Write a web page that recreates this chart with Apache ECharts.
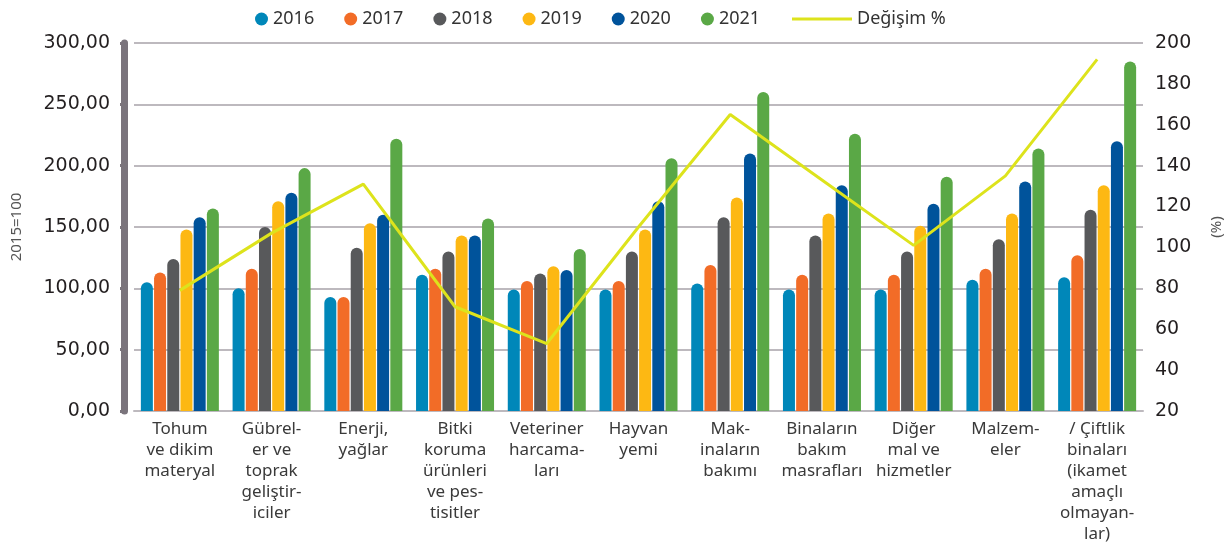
<!DOCTYPE html>
<html>
<head>
<meta charset="utf-8">
<script src="https://cdn.jsdelivr.net/npm/echarts@6/dist/echarts.min.js"></script>
<style>
  html, body { margin: 0; padding: 0; background: #fff; }
  #chart { width: 1231px; height: 550px; }
</style>
</head>
<body>
<div id="chart"></div>
<script>
const categories = [
  'Tohum\nve dikim\nmateryal',
  'Gübrel-\ner ve\ntoprak\ngeliştir-\niciler',
  'Enerji,\nyağlar',
  'Bitki\nkoruma\nürünleri\nve pes-\ntisitler',
  'Veteriner\nharcama-\nları',
  'Hayvan\nyemi',
  'Mak-\ninaların\nbakımı',
  'Binaların\nbakım\nmasrafları',
  'Diğer\nmal ve\nhizmetler',
  'Malzem-\neler',
  '/ Çiftlik\nbinaları\n(ikamet\namaçlı\nolmayan-\nlar)'
]

const years = ['2016', '2017', '2018', '2019', '2020', '2021']
const yearColors = ['#0087b9', '#f26c27', '#58595b', '#fdb813', '#00539b', '#5aa846']

const v2016 = [105, 100, 93, 111, 99, 99, 104, 99, 99, 107, 109]
const v2017 = [113, 116, 93, 116, 106, 106, 119, 111, 111, 116, 127]
const v2018 = [124, 150, 133, 130, 112, 130, 158, 143, 130, 140, 164]
const v2019 = [148, 171, 153, 143, 118, 148, 174, 161, 151, 161, 184]
const v2020 = [158, 178, 160, 143, 115, 171, 210, 184, 169, 187, 220]
const v2021 = [165, 198, 222, 157, 132, 206, 260, 226, 191, 214, 285]
const yearValues = [v2016, v2017, v2018, v2019, v2020, v2021]

const changeName = 'Değişim %'
const changeValues = [79, 107, 131, 71, 53, 110, 165, 133, 101, 135, 192]

const chartInstance = echarts.init(document.getElementById('chart'))

const barSeries = years.map((year, i) => ({
  name: year,
  type: 'bar',
  barWidth: 12,
  barGap: '10%',
  itemStyle: {
    color: yearColors[i],
    borderRadius: [6, 6, 0, 0]
  },
  data: yearValues[i]
}))

const legendText = { fontSize: 18, color: '#333', fontFamily: 'Noto Sans' }

const option = {
  animation: false,
  textStyle: { fontFamily: 'Noto Sans' },
  legend: [
    {
      data: years,
      left: 250,
      top: 5,
      icon: 'circle',
      itemWidth: 13,
      itemHeight: 15,
      itemGap: 30,
      itemTextGap: 6,
      textStyle: legendText
    },
    {
      data: [{ name: changeName, icon: 'rect' }],
      left: 787,
      top: 5,
      itemWidth: 60,
      itemHeight: 3,
      itemTextGap: 15,
      textStyle: legendText
    }
  ],
  grid: {
    left: 134,
    right: 88,
    top: 43,
    bottom: 139,
    outerBoundsMode: 'none'
  },
  xAxis: {
    type: 'category',
    data: categories,
    axisLine: { lineStyle: { color: '#bdb9be', width: 2 } },
    axisTick: { length: 8, lineStyle: { color: '#bdb9be', width: 2 } },
    axisLabel: {
      interval: 0,
      margin: 8,
      fontSize: 17,
      lineHeight: 21,
      color: '#3a3a3a',
      fontFamily: 'Noto Sans'
    }
  },
  yAxis: [
    {
      type: 'value',
      min: 0,
      max: 300,
      interval: 50,
      offset: 10,
      name: '2015=100',
      nameLocation: 'middle',
      nameGap: 100,
      nameTextStyle: { fontSize: 15, color: '#555', fontFamily: 'Noto Sans' },
      axisLine: {
        show: true,
        lineStyle: { color: '#7a747c', width: 7, cap: 'round' }
      },
      axisTick: { show: true, length: 4, lineStyle: { color: '#7a747c', width: 3 } },
      axisLabel: {
        margin: 14,
        fontSize: 19,
        color: '#231f20',
        fontFamily: 'DejaVu Sans',
        formatter: v => v.toFixed(2).replace('.', ',')
      },
      splitLine: { lineStyle: { color: '#bdb9be', width: 2 } }
    },
    {
      type: 'value',
      min: 20,
      max: 200,
      interval: 20,
      name: '(%)',
      nameLocation: 'middle',
      nameGap: 66,
      nameTextStyle: { fontSize: 15, color: '#555', fontFamily: 'Noto Sans' },
      axisLine: { show: false },
      axisTick: { show: false },
      axisLabel: {
        margin: 12,
        fontSize: 19,
        color: '#231f20',
        fontFamily: 'DejaVu Sans'
      },
      splitLine: { show: false }
    }
  ],
  series: [
    ...barSeries,
    {
      name: changeName,
      type: 'line',
      yAxisIndex: 1,
      symbol: 'none',
      z: 5,
      lineStyle: { color: '#dde31c', width: 3 },
      itemStyle: { color: '#dde31c' },
      data: changeValues
    }
  ]
}

chartInstance.setOption(option)
</script>
</body>
</html>
